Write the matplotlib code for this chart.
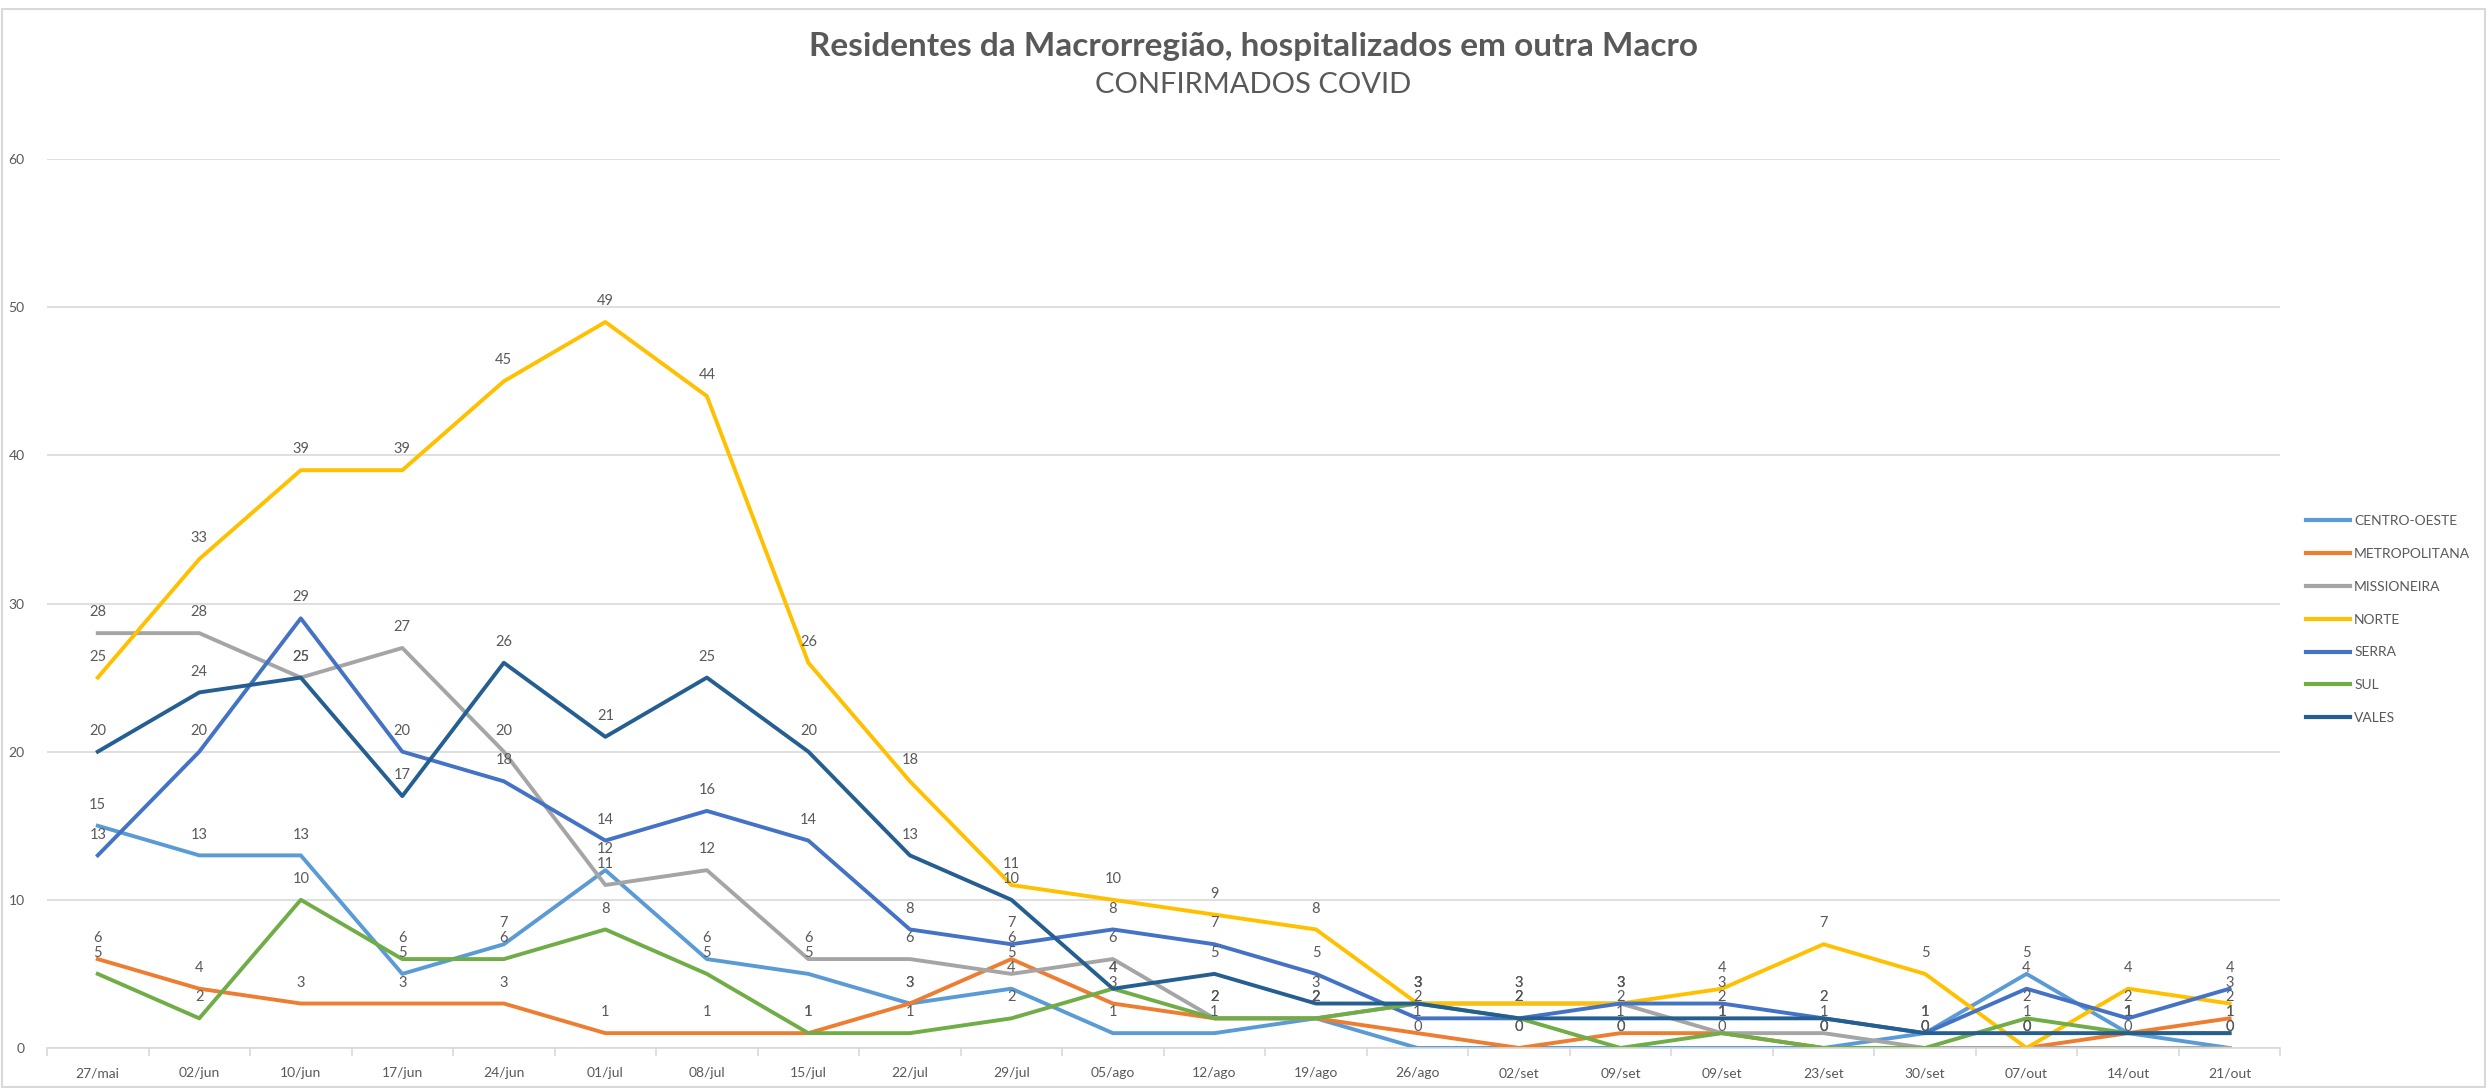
import matplotlib
matplotlib.use("Agg")
import matplotlib.pyplot as plt
from matplotlib.patches import Rectangle

plt.rcParams['font.family'] = ['Lato', 'DejaVu Sans']

datas = ['27/mai', '02/jun', '10/jun', '17/jun', '24/jun', '01/jul', '08/jul', '15/jul',
         '22/jul', '29/jul', '05/ago', '12/ago', '19/ago', '26/ago', '02/set', '09/set',
         '09/set', '23/set', '30/set', '07/out', '14/out', '21/out']

centro_oeste = [15, 13, 13, 5, 7, 12, 6, 5, 3, 4, 1, 1, 2, 0, 0, 0, 0, 0, 1, 5, 1, 0]
metropolitana = [6, 4, 3, 3, 3, 1, 1, 1, 3, 6, 3, 2, 2, 1, 0, 1, 1, 0, 0, 0, 1, 2]
missioneira = [28, 28, 25, 27, 20, 11, 12, 6, 6, 5, 6, 2, 2, 3, 3, 3, 1, 1, 0, 0, 0, 0]
norte = [25, 33, 39, 39, 45, 49, 44, 26, 18, 11, 10, 9, 8, 3, 3, 3, 4, 7, 5, 0, 4, 3]
serra = [13, 20, 29, 20, 18, 14, 16, 14, 8, 7, 8, 7, 5, 2, 2, 3, 3, 2, 1, 4, 2, 4]
sul = [5, 2, 10, 6, 6, 8, 5, 1, 1, 2, 4, 2, 2, 3, 2, 0, 1, 0, 0, 2, 1, 1]
vales = [20, 24, 25, 17, 26, 21, 25, 20, 13, 10, 4, 5, 3, 3, 2, 2, 2, 2, 1, 1, 1, 1]

series = [
    ('CENTRO-OESTE', centro_oeste, '#5B9BD5'),
    ('METROPOLITANA', metropolitana, '#ED7D31'),
    ('MISSIONEIRA', missioneira, '#A5A5A5'),
    ('NORTE', norte, '#FFC000'),
    ('SERRA', serra, '#4472C4'),
    ('SUL', sul, '#70AD47'),
    ('VALES', vales, '#255E91'),
]

txt = '#595959'
grid = '#D9D9D9'

fig = plt.figure(figsize=(24.87, 10.88), dpi=100)
fig.patches.append(Rectangle((0.001, 0.001), 0.998, 0.991, transform=fig.transFigure,
                             fill=False, edgecolor=grid, linewidth=1.5))
ax = fig.add_axes([0.0189, 0.0368, 0.898, 0.817])

x = list(range(len(datas)))
for nome, vals, cor in series:
    ax.plot(x, vals, color=cor, linewidth=2.8, label=nome, solid_joinstyle='round')
    for xi, v in zip(x, vals):
        ax.annotate(str(v), (xi, v), xytext=(0, 15), textcoords='offset points',
                    ha='center', va='center', fontsize=10.5, color=txt)

ax.set_xlim(-0.5, len(datas) - 0.5)
ax.set_ylim(0, 60)
ax.set_yticks(range(0, 61, 10))
ax.set_xticks(x)
ax.set_xticklabels(datas)
ax.set_xticks([i - 0.5 for i in range(len(datas) + 1)], minor=True)
ax.tick_params(axis='x', which='major', length=0, pad=14, labelsize=10, labelcolor=txt)
ax.tick_params(axis='x', which='minor', length=6, color=grid, width=1.2)
ax.tick_params(axis='y', length=0, pad=16, labelsize=10, labelcolor=txt)
ax.grid(axis='y', color=grid, linewidth=1.2)
ax.set_axisbelow(True)
for s in ['top', 'right', 'left']:
    ax.spines[s].set_visible(False)
ax.spines['bottom'].set_color(grid)
ax.spines['bottom'].set_linewidth(1.2)

fig.text(0.504, 0.957, 'Residentes da Macrorregião, hospitalizados em outra Macro',
         ha='center', va='center', fontsize=24, fontweight='bold', color=txt)
fig.text(0.504, 0.922, 'CONFIRMADOS COVID', ha='center', va='center', fontsize=21, color=txt)

leg = fig.legend(loc='upper left', bbox_to_anchor=(0.922, 0.538), frameon=False,
                 fontsize=10, labelcolor=txt, handlelength=3.2, handletextpad=0.3,
                 labelspacing=1.5)
for h in leg.get_lines():
    h.set_linewidth(3)

fig.savefig('out.png', dpi=100)
